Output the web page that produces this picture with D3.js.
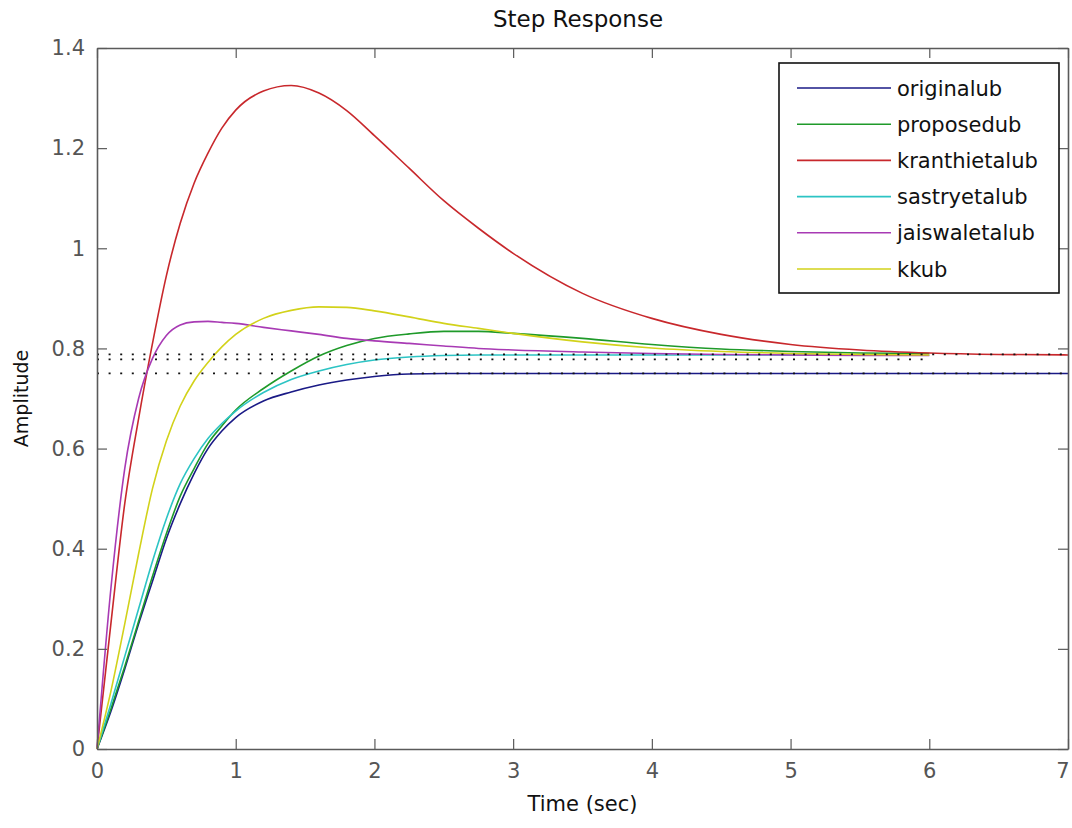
<!DOCTYPE html>
<html><head><meta charset="utf-8">
<script src="https://cdn.jsdelivr.net/npm/d3@7"></script>
<style>body{margin:0;background:#fff}svg{display:block}</style>
</head><body><svg id="c" width="1072" height="828"></svg>
<script>
const seriesNames = ["originalub","proposedub","kranthietalub","sastryetalub","jaiswaletalub","kkub"];
const seriesColors = ["#1a1a86","#1f9a2a","#c8282c","#2cc4c4","#a83ab4","#d2d21a"];
const time = [0,0.1,0.2,0.3,0.4,0.5,0.6,0.7,0.8,0.9,1.0,1.2,1.4,1.6,1.8,2.0,2.25,2.5,2.75,3.0,3.5,4.0,4.5,5.0,5.5,6.0,6.5,7.0];
const originalub   = [0,0.075,0.16,0.25,0.335,0.42,0.49,0.55,0.6,0.635,0.662,0.695,0.713,0.727,0.737,0.744,0.749,0.75,0.75,0.75,0.75,0.75,0.75,0.75,0.75,0.75,0.75,0.75];
const proposedub   = [0,0.08,0.165,0.255,0.345,0.43,0.505,0.56,0.61,0.645,0.677,0.72,0.755,0.785,0.806,0.82,0.829,0.834,0.834,0.83,0.82,0.808,0.799,0.794,0.791,0.79,null,null];
const kranthietalub= [0,0.25,0.49,0.66,0.81,0.945,1.05,1.13,1.19,1.24,1.276,1.314,1.325,1.31,1.275,1.225,1.16,1.095,1.04,0.99,0.91,0.86,0.828,0.808,0.797,0.791,0.788,0.787];
const sastryetalub = [0,0.09,0.185,0.28,0.375,0.46,0.53,0.58,0.62,0.65,0.675,0.712,0.738,0.755,0.768,0.777,0.783,0.786,0.787,0.787,0.787,0.787,0.787,0.787,0.787,0.787,null,null];
const jaiswaletalub= [0,0.32,0.56,0.70,0.78,0.826,0.847,0.853,0.854,0.852,0.85,0.842,0.835,0.828,0.82,0.815,0.81,0.805,0.80,0.797,0.793,0.79,0.788,0.787,0.786,0.786,null,null];
const kkub         = [0,0.115,0.25,0.39,0.52,0.615,0.685,0.735,0.772,0.803,0.828,0.86,0.876,0.883,0.882,0.875,0.863,0.85,0.84,0.83,0.813,0.801,0.794,0.79,0.788,0.787,null,null];
const seriesValues = [originalub,proposedub,kranthietalub,sastryetalub,jaiswaletalub,kkub];
const steadyValues = [0.75,0.778,0.788];
const steadyEnds = [7,6,7];
const xTicks = [0,1,2,3,4,5,6,7];
const yTicks = [0,0.2,0.4,0.6,0.8,1,1.2,1.4];
const yTickLabels = ["0","0.2","0.4","0.6","0.8","1","1.2","1.4"];

const svg = d3.select("#c");
const L=97,R=1068,T=48,B=749;
const x = d3.scaleLinear().domain([0,7]).range([L,R]);
const y = d3.scaleLinear().domain([0,1.4]).range([B,T]);
const font = "'DejaVu Sans', Verdana, sans-serif";
const axisCol = "#5a5a5a";

// data lines
const line = d3.line().defined(d=>d[1]!==null).x(d=>x(d[0])).y(d=>y(d[1])).curve(d3.curveMonotoneX);
const g = svg.append("g");
seriesValues.forEach((vals,i)=>{
  g.append("path").datum(time.map((t,j)=>[t,vals[j]]))
   .attr("d",line).attr("fill","none").attr("stroke",seriesColors[i]).attr("stroke-width",1.6);
});
// steady state dotted lines
steadyValues.forEach((v,i)=>{
  g.append("line").attr("x1",x(0)).attr("x2",x(steadyEnds[i])).attr("y1",y(v)).attr("y2",y(v))
   .attr("stroke","#111").attr("stroke-width",1.7).attr("stroke-dasharray","2,9.6");
});

// axes box with inward ticks
const tl = 10;
const axB = svg.append("g").attr("transform",`translate(0,${B})`).call(d3.axisBottom(x).tickValues(xTicks).tickSizeInner(-tl).tickSizeOuter(0).tickPadding(14).tickFormat(d3.format("d")));
const axT = svg.append("g").attr("transform",`translate(0,${T})`).call(d3.axisTop(x).tickValues(xTicks).tickSizeInner(-tl).tickSizeOuter(0).tickFormat(""));
const axL = svg.append("g").attr("transform",`translate(${L},0)`).call(d3.axisLeft(y).tickValues(yTicks).tickSizeInner(-tl).tickSizeOuter(0).tickPadding(12).tickFormat((d,i)=>yTickLabels[i]));
const axR = svg.append("g").attr("transform",`translate(${R},0)`).call(d3.axisRight(y).tickValues(yTicks).tickSizeInner(-tl).tickSizeOuter(0).tickFormat(""));
[axB,axT,axL,axR].forEach(a=>{
  a.select(".domain").attr("stroke",axisCol).attr("stroke-width",1.6);
  a.selectAll(".tick line").attr("stroke",axisCol).attr("stroke-width",1.2);
  a.selectAll("text").attr("font-family",font).attr("font-size",21).attr("fill","#555");
});
axB.selectAll("text").attr("dy","0.71em");
axB.selectAll(".tick").filter(d=>d===7).select("text").attr("text-anchor","end").attr("dx","0.05em");

// title & labels
svg.append("text").attr("x",578).attr("y",27).attr("text-anchor","middle").attr("font-family",font).attr("font-size",23).attr("fill","#111").text("Step Response");
svg.append("text").attr("x",(L+R)/2).attr("y",811).attr("text-anchor","middle").attr("font-family",font).attr("font-size",21).attr("fill","#111").text("Time (sec)");
svg.append("text").attr("transform",`translate(28,${(T+B)/2}) rotate(-90)`).attr("text-anchor","middle").attr("font-family",font).attr("font-size",19).attr("fill","#111").text("Amplitude");

// legend
const lg = svg.append("g");
lg.append("rect").attr("x",779).attr("y",63).attr("width",280).attr("height",230).attr("fill","#fff").attr("stroke","#111").attr("stroke-width",1.6);
seriesNames.forEach((n,i)=>{
  const yy = 88 + i*36.2;
  lg.append("line").attr("x1",797).attr("x2",891).attr("y1",yy).attr("y2",yy).attr("stroke",seriesColors[i]).attr("stroke-width",1.6);
  lg.append("text").attr("x",897).attr("y",yy).attr("dy","0.36em").attr("font-family",font).attr("font-size",21).attr("fill","#111").text(n);
});
</script></body></html>
